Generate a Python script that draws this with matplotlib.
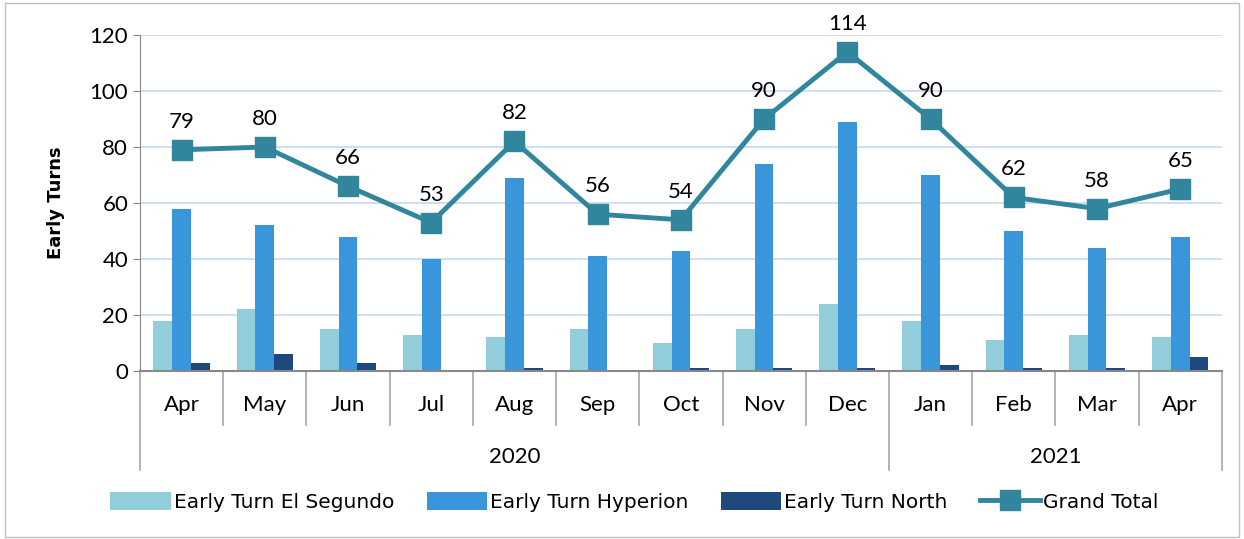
import matplotlib.pyplot as plt
import numpy as np
from matplotlib.lines import Line2D
from matplotlib.patches import Rectangle

plt.rcParams['font.family'] = ['Lato', 'DejaVu Sans']

months = ['Apr', 'May', 'Jun', 'Jul', 'Aug', 'Sep', 'Oct', 'Nov', 'Dec', 'Jan', 'Feb', 'Mar', 'Apr']
years = ['2020', '2021']
year_counts = [9, 4]
el_segundo = [18, 22, 15, 13, 12, 15, 10, 15, 24, 18, 11, 13, 12]
hyperion = [58, 52, 48, 40, 69, 41, 43, 74, 89, 70, 50, 44, 48]
north = [3, 6, 3, 0, 1, 0, 1, 1, 1, 2, 1, 1, 5]
grand_total = [79, 80, 66, 53, 82, 56, 54, 90, 114, 90, 62, 58, 65]

c_seg = '#92CDDC'
c_hyp = '#3A96DB'
c_nor = '#1F497D'
c_tot = '#31859C'

fig = plt.figure(figsize=(12.44, 5.39), dpi=100)
ax = fig.add_axes([0.1125, 0.3117, 0.8697, 0.6233])

x = np.arange(len(months))
w = 0.225
h1 = ax.bar(x - w, el_segundo, w, color=c_seg, label='Early Turn El Segundo', zorder=2)
h2 = ax.bar(x, hyperion, w, color=c_hyp, label='Early Turn Hyperion', zorder=2)
h3 = ax.bar(x + w, north, w, color=c_nor, label='Early Turn North', zorder=2)
h4, = ax.plot(x, grand_total, color=c_tot, lw=3.5, marker='s', ms=15, label='Grand Total', zorder=3)

for xi, v in zip(x, grand_total):
    ax.annotate(str(v), (xi, v), xytext=(0, 13), textcoords='offset points',
                ha='center', va='bottom', fontsize=16)

ax.set_xlim(-0.5, len(months) - 0.5)
ax.set_ylim(0, 120)
ax.set_yticks(range(0, 121, 20))
ax.tick_params(axis='y', labelsize=16, length=5, color='#888888', direction='out')
ax.set_xticks([])
ax.yaxis.grid(True, color='#C5D9F1', lw=1.2, zorder=0)
ax.set_axisbelow(True)
for s in ['top', 'right']:
    ax.spines[s].set_visible(False)
ax.spines['left'].set_color('#888888')
ax.spines['bottom'].set_color('#888888')
ax.spines['bottom'].set_linewidth(1.5)
ax.set_ylabel('Early Turns', fontsize=13, fontweight='bold', labelpad=18,
              family=['DejaVu Sans'])

# category labels and separators
tr = ax.get_xaxis_transform()
for xi, m in zip(x, months):
    ax.text(xi, -0.101, m, transform=tr, ha='center', va='center', fontsize=16)
year_edges = np.cumsum([0] + year_counts) - 0.5
for k in range(len(months) + 1):
    xb = k - 0.5
    y_end = -0.295 if xb in year_edges else -0.161
    ax.add_line(Line2D([xb, xb], [0, y_end], transform=tr, color='#A6A6A6', lw=1.2, clip_on=False))
for yname, a, b in zip(years, year_edges[:-1], year_edges[1:]):
    ax.text((a + b) / 2, -0.256, yname, transform=tr, ha='center', va='center', fontsize=16)

fig.legend([h1, h2, h3, h4], ['Early Turn El Segundo', 'Early Turn Hyperion', 'Early Turn North', 'Grand Total'],
           loc='center', bbox_to_anchor=(0.51, 0.069), ncol=4, frameon=False,
           prop={'family': 'DejaVu Sans', 'size': 14.5}, handlelength=3.0, handleheight=1.0,
           handletextpad=0.15, columnspacing=1.6)

fig.patches.append(Rectangle((0.004, 0.004), 0.992, 0.99, transform=fig.transFigure,
                             fill=False, edgecolor='#BFBFBF', lw=1))

fig.savefig('out.png', dpi=100)
